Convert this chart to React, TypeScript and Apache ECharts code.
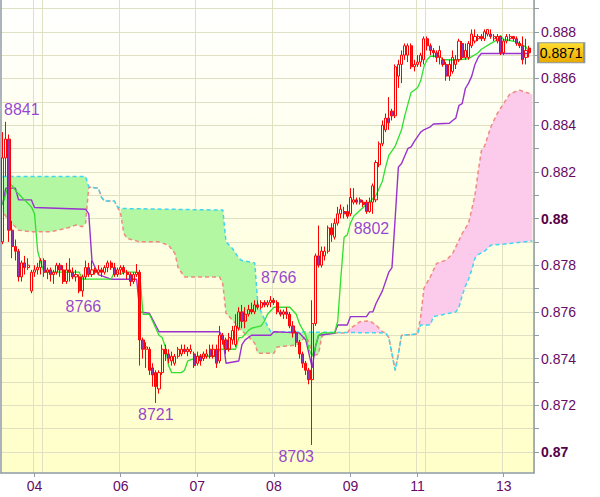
import React, { useEffect, useRef } from 'react';
import * as echarts from 'echarts';

// ---------- DATA (prices in pips: 8841 = 0.8841) ----------
const SLOT_COUNT = 167;
const categories: string[] = Array.from({ length: SLOT_COUNT }, (_, i) => String(i));

const xLabelIndex = [10, 37, 61, 85, 109, 130, 157];
const xLabelText = ['04', '06', '07', '08', '09', '11', '13'];
const xGridIndex = [10, 13, 37, 61, 85, 109, 130, 133, 157];

const yTicks = [8700, 8720, 8740, 8760, 8780, 8800, 8820, 8840, 8860, 8880];
const yTickLabels = ['0.87', '0.872', '0.874', '0.876', '0.878', '0.88', '0.882', '0.884', '0.886', '0.888'];
const yBoldTicks = [8700, 8800];
const yMinorTicks = [8700, 8710, 8720, 8730, 8740, 8750, 8760, 8770, 8780, 8790, 8800, 8810, 8820, 8830, 8840, 8850, 8860, 8870, 8880, 8890];
const Y_MIN = 8691.0;
const Y_MAX = 8893.6;

// [open, close, low, high]
const candles: number[][] = [
  [8790, 8826, 8789, 8837], [8826, 8834, 8818, 8841.4], [8834, 8795, 8790, 8836], [8795, 8788, 8783, 8799],
  [8788, 8786, 8782, 8791], [8786, 8775, 8773, 8787], [8775, 8781, 8773, 8782], [8781, 8779, 8776, 8784],
  [8779, 8780, 8778, 8783], [8769, 8777, 8768, 8778], [8777, 8778, 8775, 8780], [8778, 8779, 8776, 8781],
  [8779, 8782, 8776, 8783], [8782, 8777, 8775, 8783], [8777, 8778, 8774, 8779], [8778, 8776, 8773, 8779],
  [8776, 8777, 8772, 8778], [8777, 8780, 8776, 8781], [8780, 8778, 8775, 8781], [8778, 8773, 8772, 8780],
  [8773, 8778, 8772, 8781], [8778, 8777, 8773, 8783], [8777, 8775, 8774, 8779], [8775, 8776, 8773, 8778],
  [8775, 8769, 8768, 8776], [8769, 8775, 8766.5, 8776], [8775, 8779, 8774, 8782], [8779, 8776, 8775, 8781],
  [8776, 8778, 8775, 8782], [8778, 8777, 8776, 8779], [8777, 8778, 8776, 8780], [8778, 8777, 8775, 8779],
  [8777, 8779, 8776, 8780], [8779, 8781, 8777, 8782], [8781, 8779, 8778, 8782], [8779, 8776, 8775, 8781],
  [8776, 8778, 8775, 8779], [8778, 8779, 8776, 8780], [8779, 8777, 8776, 8780], [8777, 8776, 8774, 8778],
  [8776, 8773, 8771, 8777], [8773, 8776, 8772, 8777], [8776, 8777, 8775, 8780.5], [8777, 8748, 8737, 8778],
  [8748, 8744, 8740, 8749], [8744, 8745, 8736, 8747], [8744, 8735, 8733, 8745], [8736, 8733, 8728, 8738],
  [8734, 8728, 8721, 8735], [8727, 8734, 8725, 8735], [8734, 8744, 8733, 8746], [8744, 8742, 8739, 8746],
  [8742, 8740, 8738, 8744], [8739, 8741, 8737, 8743], [8738, 8741, 8737, 8742], [8741, 8744, 8740, 8745],
  [8742, 8744, 8741, 8746], [8744, 8743, 8742, 8746], [8743, 8744, 8741, 8745], [8743, 8744, 8742, 8746],
  [8742, 8737, 8736, 8743], [8738, 8741, 8737, 8743], [8741, 8739, 8737, 8742], [8740, 8742, 8739, 8743],
  [8741, 8742, 8740, 8744], [8744, 8741, 8740, 8746], [8741, 8744, 8740, 8746], [8744, 8738, 8736, 8746],
  [8739, 8750, 8738, 8754], [8750, 8748, 8746, 8751], [8748, 8744, 8742, 8749], [8744, 8749, 8743, 8751],
  [8748, 8752, 8746, 8754], [8746, 8754, 8745, 8759], [8753, 8760, 8752, 8762], [8760, 8756, 8753, 8763],
  [8756, 8759, 8753, 8762], [8759, 8761, 8758, 8763], [8761, 8760, 8759, 8764], [8760, 8763, 8759, 8765],
  [8763, 8762, 8761, 8765], [8762, 8764, 8761, 8765], [8764, 8763, 8762, 8765], [8763, 8764, 8762, 8765],
  [8764, 8765, 8762, 8766.8], [8765, 8764, 8763, 8766], [8764, 8760, 8759, 8765], [8760, 8759, 8758, 8761],
  [8759, 8760, 8757, 8761], [8760, 8759, 8757, 8762], [8759, 8754, 8753, 8760], [8754, 8751, 8749, 8756],
  [8751, 8747, 8745, 8752], [8747, 8742, 8740, 8748], [8742, 8738, 8736, 8743], [8738, 8735, 8733, 8739],
  [8735, 8731, 8729, 8736], [8731, 8755, 8703, 8765], [8755, 8784, 8754, 8785], [8784, 8780, 8779, 8797],
  [8780, 8786, 8779, 8788], [8784, 8786, 8782, 8788], [8786, 8796, 8785, 8797], [8796, 8793, 8790, 8798],
  [8792, 8798, 8791, 8800], [8798, 8802, 8797, 8805], [8802, 8804, 8800, 8806], [8803, 8802, 8800, 8805],
  [8803, 8801, 8800, 8806], [8802, 8809, 8801, 8813], [8807, 8808, 8806, 8813], [8808, 8807, 8806, 8809],
  [8808, 8807, 8806, 8809], [8807, 8806, 8805, 8808], [8807, 8803, 8802, 8808], [8803, 8807, 8802.5, 8809],
  [8807, 8814, 8802, 8815], [8808, 8824, 8807, 8825], [8823, 8832, 8822, 8833], [8832, 8840, 8831, 8842],
  [8838, 8843, 8837, 8845], [8843, 8841, 8838, 8852], [8846, 8844, 8842, 8847], [8844, 8865, 8843, 8866],
  [8861, 8866, 8856, 8868], [8866, 8870, 8858, 8872], [8870, 8874, 8868, 8875], [8870, 8874, 8867, 8875],
  [8874, 8865, 8864, 8875], [8865, 8866, 8863, 8868], [8866, 8867, 8865, 8870], [8867, 8870, 8865, 8871],
  [8868, 8877, 8866, 8878], [8877, 8874, 8872, 8878], [8874, 8872, 8870, 8875], [8872, 8871, 8869, 8873],
  [8871, 8869, 8867, 8872], [8869, 8872, 8866, 8874], [8868, 8866, 8865, 8869], [8866, 8861, 8859, 8867],
  [8861, 8866, 8859, 8868], [8863, 8869, 8862, 8872], [8866, 8868, 8864, 8870], [8868, 8876, 8867, 8877],
  [8875, 8869, 8868, 8876], [8869, 8872, 8868, 8875], [8869, 8875, 8868, 8876], [8874, 8879, 8873, 8881],
  [8876, 8878, 8875, 8881], [8877, 8878, 8876, 8879], [8878, 8877, 8876, 8879], [8877, 8880, 8876, 8881],
  [8879, 8881, 8878, 8881], [8879, 8878, 8877, 8881], [8877, 8878, 8876, 8879], [8876, 8878, 8875, 8879],
  [8878, 8871, 8870, 8878], [8871, 8876, 8870, 8877], [8876, 8878, 8875, 8879], [8877, 8878, 8876, 8879],
  [8878, 8877, 8876, 8878], [8877, 8875, 8874, 8878], [8875, 8874, 8873, 8876], [8874, 8868, 8866, 8878],
  [8869, 8872, 8866, 8877], [8873, 8871, 8869, 8874],
];

// Ichimoku lines: [slot index, pips] vertices
const tenkan: number[][] = [
  [0, 8806], [2, 8815], [3, 8814], [4, 8812], [9, 8805], [10, 8802], [11, 8786], [12, 8781], [13, 8777],
  [24, 8777], [25, 8774], [34, 8774], [35, 8777], [36, 8777], [37, 8776], [38, 8777], [42, 8777], [43, 8776],
  [44, 8759], [46, 8759], [49, 8750], [50, 8749], [51, 8745], [52, 8737], [53, 8734], [56, 8734], [57, 8735],
  [58, 8739], [60, 8740], [61, 8741], [67, 8741], [68, 8744], [73, 8744], [74, 8749], [75, 8749], [77, 8752],
  [78, 8753], [81, 8754], [82, 8756], [83, 8759], [85, 8762], [86, 8762], [90, 8762], [92, 8759], [93, 8755],
  [95, 8750], [96, 8744], [97, 8741], [98, 8745], [99, 8750], [100, 8751], [104, 8751], [105, 8756],
  [106, 8775], [107, 8792], [108, 8793], [109, 8798], [110, 8801], [112, 8803.5], [114, 8806], [115, 8807],
  [117, 8810], [118, 8813], [119, 8816], [120, 8822], [121, 8827], [122, 8829], [123, 8831], [125, 8838],
  [126, 8844], [127, 8849], [128, 8854], [130, 8856], [131, 8859], [132, 8865], [133, 8868], [134, 8869.5],
  [137, 8869.5], [138, 8868], [143, 8868], [146, 8868.5], [149, 8871], [150, 8872.5], [153, 8875],
  [155, 8876.5], [156, 8878.5], [157, 8876.5], [158, 8876.5], [161, 8875.7], [163, 8874.2], [164, 8873.5],
  [165, 8871.4],
];

const kijun: number[][] = [
  [0, 8806], [1, 8813], [4, 8813], [5, 8808], [9, 8808], [10, 8804.7], [26, 8804], [27, 8802], [28, 8782],
  [29, 8779], [30, 8776], [32, 8775], [34, 8774], [42, 8774], [43, 8760], [46, 8759.4], [49, 8751.5],
  [68, 8751.5], [69, 8749], [70, 8738], [74, 8739], [75, 8746], [76, 8748], [78, 8750], [84, 8750],
  [85, 8751.5], [93, 8751], [95, 8748], [96, 8742], [97, 8736], [98, 8745], [99, 8750], [104, 8750.8],
  [105, 8754.4], [108, 8754.4], [109, 8758], [114, 8758], [115, 8760], [116, 8760], [117, 8763.6],
  [119, 8769], [121, 8777], [122, 8779], [123, 8800], [124, 8822], [125, 8823.6], [127, 8830],
  [128, 8830.7], [129, 8833], [131, 8837], [132, 8838], [134, 8839.3], [135, 8840.5], [140, 8840.8],
  [141, 8842], [142, 8843], [143, 8848.5], [144, 8849.2], [145, 8855.7], [146, 8858], [147, 8861],
  [148, 8866], [149, 8869], [150, 8870.7], [165, 8870.7],
];

const spanA: number[][] = [
  [0, 8818], [26, 8818], [27, 8813.5], [30, 8813], [31, 8809], [32, 8807.5], [35, 8807.5], [36, 8805],
  [37, 8804.3], [69, 8803.6], [70, 8790], [71, 8788.6], [72, 8787.2], [74, 8783], [75, 8782], [79, 8781],
  [80, 8763], [81, 8760], [82, 8757], [83, 8754], [84, 8751.5], [120, 8751], [121, 8749], [122, 8742],
  [123, 8735], [124, 8742], [125, 8750], [130, 8750.5], [131, 8754.4], [134, 8754.4], [135, 8758],
  [142, 8760], [143, 8762], [144, 8767], [145, 8771], [146, 8774], [147, 8778], [148, 8783],
  [149, 8784.5], [151, 8786], [153, 8788.6], [159, 8789.3], [166, 8790.4],
];

const spanB: number[][] = [
  [0, 8803], [2, 8799], [4, 8796.5], [5, 8795], [9, 8794.3], [15, 8794.3], [20, 8795.8], [23, 8797.2],
  [25, 8796.5], [26, 8798], [27, 8813.5], [30, 8813], [31, 8809], [32, 8807.5], [35, 8807.5], [36, 8805],
  [37, 8802], [38, 8793.6], [39, 8791.5], [43, 8790], [49, 8790], [52, 8788.6], [54, 8785], [55, 8779],
  [57, 8775], [68, 8775], [69, 8772], [70, 8759.4], [71, 8758], [73, 8755], [74, 8753], [77, 8749.5],
  [79, 8746.6], [80, 8742.3], [85, 8742.3], [86, 8745], [92, 8745.8], [95, 8749.4], [96, 8747],
  [97, 8741], [99, 8742], [100, 8749.4], [101, 8750.5], [104, 8751], [108, 8751], [109, 8753],
  [112, 8755.8], [115, 8756.2], [117, 8754.4], [119, 8751.5], [120, 8751], [121, 8749], [122, 8742],
  [123, 8735], [124, 8742], [125, 8750], [130, 8750.5], [131, 8758], [132, 8770], [134, 8775],
  [136, 8780.8], [139, 8782.2], [141, 8785], [144, 8793.6], [146, 8798], [147, 8804], [148, 8810],
  [149, 8820], [150, 8829], [151, 8831], [153, 8839.3], [155, 8845], [157, 8849.3], [159, 8853.5],
  [162, 8855], [165, 8853.6], [166, 8853],
];

// cloud segments: [from slot, to slot, kind] kind 0 = bullish (A over B), 1 = bearish
const cloudSegments: number[][] = [
  [0, 27, 0], [37, 104, 0], [108, 120, 1], [130, 166, 1],
];

// extreme-price annotations: [slot index, pips]
const extremes: number[][] = [
  [1, 8841.4], [25, 8766.5], [48, 8721], [84, 8766.8], [97, 8703], [114, 8802],
];

// ---------- STYLE ----------
const FONT = '"Liberation Sans", Arial, sans-serif';
const extremeLabelOffsets: number[][] = [[16, -12], [1, 10], [0, 12], [8, -19], [-16, 12], [5, 15]];
const AXIS_GRAY = '#8f9ba6';
const LABEL_COLOR = '#660a66';
const GRID_COLOR = '#e0e0c2';
const GREEN_FILL = '#b3f7a3';
const PINK_FILL = '#fccbeb';

export default function App() {
  const ref = useRef<HTMLDivElement>(null);

  useEffect(() => {
    if (!ref.current) return;
    const chart = echarts.init(ref.current, undefined, { renderer: 'svg' });
    const last = candles[candles.length - 1];
    const lastClose = last[1];

    const option: any = {
      animation: false,
      backgroundColor: '#ffffff',
      grid: {
        left: 1, right: 66, top: 0, bottom: 24,
        show: true,
        borderWidth: 0,
        backgroundColor: new echarts.graphic.LinearGradient(0, 0, 0, 1, [
          { offset: 0, color: '#ffffff' },
          { offset: 1, color: '#ffffc9' },
        ]),
      },
      xAxis: {
        type: 'category',
        data: categories,
        boundaryGap: true,
        axisLine: { show: true, lineStyle: { color: AXIS_GRAY, width: 1.5 } },
        axisTick: {
          show: true, alignWithLabel: true, length: 4,
          interval: (idx: number) => xLabelIndex.includes(idx),
          lineStyle: { color: AXIS_GRAY },
        },
        axisLabel: {
          show: true,
          interval: (idx: number) => xLabelIndex.includes(idx),
          formatter: (_v: string, idx: number) => xLabelText[xLabelIndex.indexOf(idx)] ?? '',
          color: LABEL_COLOR, fontSize: 14, fontFamily: FONT, margin: 6,
        },
        splitLine: {
          show: true,
          interval: (idx: number) => xGridIndex.includes(idx),
          lineStyle: { color: GRID_COLOR, width: 1 },
        },
      },
      yAxis: [
        {
          type: 'value',
          position: 'right',
          min: Y_MIN, max: Y_MAX,
          splitNumber: 10,
          scale: true,
          axisLine: { show: true, lineStyle: { color: AXIS_GRAY, width: 1.5 } },
          axisTick: { show: true, length: 5, customValues: yMinorTicks, lineStyle: { color: AXIS_GRAY } },
          axisLabel: {
            show: true,
            customValues: yTicks,
            margin: 7,
            color: LABEL_COLOR, fontSize: 14, fontFamily: FONT,
            formatter: (v: number) => {
              const k = yTicks.findIndex((t) => Math.abs(t - v) < 0.01);
              if (k < 0) return '';
              return yBoldTicks.includes(yTicks[k]) ? `{b|${yTickLabels[k]}}` : yTickLabels[k];
            },
            rich: { b: { fontWeight: 'bold', color: '#560046', fontSize: 14, fontFamily: FONT } },
          },
          splitLine: { show: true, lineStyle: { color: GRID_COLOR, width: 1 } },
        },
        {
          type: 'value',
          position: 'left',
          min: Y_MIN, max: Y_MAX,
          axisLine: { show: true, lineStyle: { color: AXIS_GRAY, width: 1.5 } },
          axisTick: { show: false },
          axisLabel: { show: false },
          splitLine: { show: false },
        },
      ],
      series: [
        {
          type: 'custom',
          name: 'cloud',
          z: 1,
          silent: true,
          data: cloudSegments,
          encode: { x: 0, y: 2 },
          renderItem: (_params: any, api: any) => {
            const s = api.value(0);
            const e = api.value(1);
            const k = api.value(2);
            const top = spanA.filter((p) => p[0] >= s && p[0] <= e).map((p) => api.coord([p[0], p[1]]));
            const bot = spanB.filter((p) => p[0] >= s && p[0] <= e).map((p) => api.coord([p[0], p[1]])).reverse();
            return {
              type: 'polygon',
              shape: { points: top.concat(bot) },
              style: { fill: k ? PINK_FILL : GREEN_FILL },
            };
          },
        },
        {
          type: 'line', name: 'Senkou B', z: 2, silent: true,
          data: spanB, showSymbol: false, symbol: 'none',
          lineStyle: { color: '#f08a80', width: 1.5, type: [4, 3], dashOffset: 3.5 },
        },
        {
          type: 'line', name: 'Senkou A', z: 2, silent: true,
          data: spanA, showSymbol: false, symbol: 'none',
          lineStyle: { color: '#3fd6f0', width: 1.5, type: [4, 3] },
        },
        {
          type: 'line', name: 'Kijun', z: 3, silent: true,
          data: kijun, showSymbol: false, symbol: 'none',
          lineStyle: { color: '#9a32cf', width: 1.4 },
        },
        {
          type: 'line', name: 'Tenkan', z: 3, silent: true,
          data: tenkan, showSymbol: false, symbol: 'none',
          lineStyle: { color: '#2fe02f', width: 1.3 },
        },
        {
          type: 'candlestick', name: 'Price', z: 4, silent: true,
          data: candles,
          barWidth: 2.6,
          itemStyle: {
            color: 'rgba(255,255,255,0)',
            color0: '#9236b8',
            borderColor: '#ff0000',
            borderColor0: '#ff0000',
            borderWidth: 1,
          },
          markPoint: {
            silent: true,
            symbol: 'rect',
            symbolSize: [46, 20],
            symbolOffset: [32, 0],
            data: [{ coord: [candles.length - 1, lastClose], value: lastClose }],
            itemStyle: {
              color: new echarts.graphic.LinearGradient(0, 0, 0, 1, [
                { offset: 0, color: '#ffdf30' },
                { offset: 1, color: '#e9a800' },
              ]),
              borderColor: '#8a97a3',
              borderWidth: 1.5,
            },
            label: {
              show: true, position: 'inside',
              formatter: () => (lastClose / 10000).toFixed(4),
              color: '#000000', fontSize: 14, fontFamily: FONT,
            },
          },
        },
        {
          type: 'scatter', name: 'extremes', z: 5, silent: true,
          symbol: 'circle', symbolSize: 1,
          itemStyle: { color: 'rgba(0,0,0,0)' },
          data: extremes.map((p, n) => ({
            value: p,
            label: { offset: extremeLabelOffsets[n] },
          })),
          label: {
            show: true, position: 'inside',
            formatter: (p: any) => String(Math.floor(p.value[1])),
            color: '#7a12cc', fontSize: 16, fontFamily: FONT,
          },
        },
      ],
    };

    chart.setOption(option);
    return () => chart.dispose();
  }, []);

  return (
    <div
      ref={ref}
      style={{ position: 'absolute', left: 0, top: 0, width: 600, height: 497 }}
    />
  );
}
